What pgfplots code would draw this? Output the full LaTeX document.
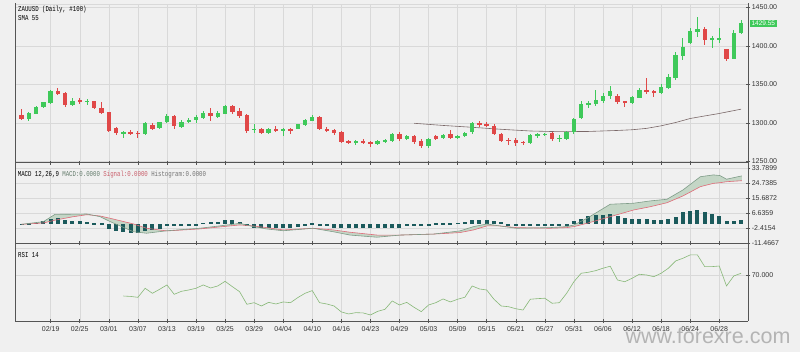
\documentclass[border=0pt]{standalone}
\usepackage{pgfplots}
\pgfplotsset{compat=1.18}
\usepackage{pgfplotstable}
\usepackage{fontspec}
\setmainfont{Liberation Sans}
\newfontfamily\monof[FakeStretch=0.76]{Liberation Mono}
\definecolor{bg}{HTML}{F0F0F0}
\definecolor{gridc}{HTML}{D9D9D9}
\definecolor{axc}{HTML}{555555}
\definecolor{cup}{HTML}{3FC95A}
\definecolor{cdn}{HTML}{E04848}
\definecolor{smac}{HTML}{7A6868}
\definecolor{macdc}{HTML}{7F9C88}
\definecolor{macdf}{HTML}{C4D6C6}
\definecolor{sigc}{HTML}{E06A78}
\definecolor{histc}{HTML}{1B5A5C}
\definecolor{rsic}{HTML}{88B878}
\definecolor{wmark}{HTML}{B4B4B4}

\pgfplotstableread{
i O H L C
1 1305.6 1314 1302.6 1313.4
2 1312.1 1322 1311.7 1320.7
3 1320.7 1327.5 1320 1326.8
4 1326.3 1342.8 1324 1341.5
7 1323 1332.4 1322 1328.5
9 1326.8 1330.7 1323.7 1328.9
14 1286.6 1290 1281 1288.3
17 1285.4 1301 1285 1299.6
19 1293.1 1301.5 1292 1300.9
20 1300.9 1311.3 1300 1309.1
22 1294.8 1303.9 1293.5 1301.7
23 1301.7 1306.9 1299.6 1303.9
24 1303.9 1310.4 1300 1307.4
25 1306.1 1315 1305 1312.6
27 1308.2 1315 1307 1313
28 1312.1 1323.3 1311 1322
32 1291.3 1298.7 1286.6 1292.6
34 1286.6 1293.5 1285.4 1292.6
36 1290.5 1294 1283 1291.8
38 1292.6 1299 1292 1298.3
39 1297.4 1305 1296 1303.9
40 1303 1310.8 1302 1308.2
46 1274.5 1278 1272 1276.3
49 1272.4 1278 1271 1276.7
50 1275.8 1279.5 1274 1278
51 1276.7 1287 1275 1285.4
53 1279.3 1285 1278 1283.5
56 1270.6 1280 1268 1278.9
58 1280.2 1286 1279 1284.8
60 1281 1285 1279.5 1283.5
61 1283.5 1288.5 1282 1287.4
62 1288 1301 1286 1300.4
70 1273.7 1285.4 1272.8 1284.4
71 1284 1287 1280 1285.4
72 1285 1287 1283 1285.7
74 1279.6 1285 1275 1280.6
75 1278.9 1289 1277.5 1288.3
76 1288 1306 1286 1305.2
77 1306.9 1328.5 1305.2 1324.2
78 1323.7 1328.9 1319.8 1326.3
79 1324.6 1342.8 1322 1329.8
80 1328.9 1339.3 1326.3 1335.4
81 1334.6 1348 1331 1341.1
84 1325.9 1334.6 1325 1333.3
85 1332.8 1345 1332 1342.4
88 1339.3 1350 1337 1346.7
89 1345.8 1363 1344 1360
90 1358.7 1391.6 1356 1388.1
91 1387.2 1409.8 1381.7 1398.1
92 1404.1 1422.8 1402.4 1418.9
93 1418.4 1437.8 1411.1 1422.2
95 1408.5 1412.8 1397.6 1409.8
96 1408 1423.5 1404.1 1410.6
98 1383 1420.6 1383 1417
99 1416.7 1433.5 1415.4 1429.55
}\upT

\pgfplotstableread{
i O H L C
0 1310.4 1318 1304 1305.2
5 1341.5 1345.4 1336 1337.6
6 1338.5 1340 1320.4 1323.3
8 1329.8 1332 1325 1326.8
10 1328.5 1329 1317.8 1319.8
11 1319.8 1326.8 1311 1312.6
12 1313.9 1314.5 1288.7 1290
13 1293.9 1295.2 1284 1286.6
15 1288.7 1291 1284 1286.6
16 1287 1290 1281 1286
18 1297 1299.6 1291 1292.2
21 1309.1 1310 1292.6 1296.1
26 1313.4 1319.8 1303 1308.7
29 1322 1323.3 1312 1313.9
30 1316 1319 1307 1308.7
31 1310.4 1311 1287.4 1289.6
33 1292.6 1294 1286 1287
35 1292.6 1295.5 1288.3 1290
37 1291.8 1293 1285.4 1291
41 1308.2 1309 1290.5 1291.8
42 1292.6 1294.8 1288 1290
43 1290.9 1292 1285 1286.6
44 1287.9 1289 1274.5 1275.8
45 1276.7 1278 1272.7 1274
47 1276.7 1279 1273 1275
48 1275.4 1277 1268.5 1272.8
52 1286.1 1288 1277 1279.3
54 1283.5 1285 1272.8 1275.8
55 1277 1279 1267.6 1270.2
57 1283.5 1285 1278 1279.6
59 1285.4 1291 1279 1280.6
63 1300.4 1303 1295 1297
64 1298.3 1301 1294.4 1297.4
65 1296.1 1298.3 1285 1286.1
66 1286.1 1287.4 1275 1277
67 1278 1281 1272 1276.7
68 1278 1280 1270 1274.5
69 1275.8 1277 1272 1273.7
73 1286.6 1288 1277 1279.3
82 1335.4 1337.6 1324.2 1327.2
83 1328 1329 1320.4 1326.3
86 1342.4 1358.7 1337.2 1340.6
87 1341.5 1343 1333.7 1339.3
94 1422.2 1424 1401.1 1408
97 1395.5 1396.5 1380.4 1383
}\dnT

\pgfplotstableread{
i v
54 1299.6
58 1296.8
62 1294.4
66 1291.8
70 1289.6
74 1288.7
78 1289
82 1290.3
84 1291.2
86 1293
88 1296.3
90 1300.6
92 1305.8
94 1309.1
96 1312.3
99 1317.9
}\smaT

\pgfplotstableread{
i m s
0 0 0
3 1.6 0.8
4.6 6 2.5
7 6.1 4.5
9 6.2 5.8
10.8 4.6 5.0
12.2 1.6 3.6
15.4 -4.5 0.2
17.2 -5.4 -2.4
20 -3.9 -4
24.5 -2.4 -2.8
29.1 0 -0.8
30 0.6 -0.4
31.9 -1.4 -1
33.7 -2.8 -2
36 -3.9 -3.4
40.1 -2.4 -2.4
42.9 -4.5 -3.4
45.2 -6.5 -4.8
48.9 -7.8 -6.5
52.1 -6.5 -6.5
56.7 -5.9 -5.9
60.3 -4 -5
62.2 -1.4 -3.4
64 0.2 -1
65.8 -1 -1
68.1 -2.4 -2
72.7 -2 -2.4
75 -1.4 -2
76 -0.4 -1.4
77.8 3.6 0.6
81 12.1 4.6
84.2 12.7 8.6
86.5 14.1 10.6
88.8 15.1 13
91 20.7 17.1
93.4 28.7 22.7
95.2 29.8 24.7
96.1 29.4 25.1
97 27.2 25.7
99.1 29.2 26.3
}\macdT

% band between MACD and signal: MACD forward, signal backward
\pgfplotstableread{
i v
0 0
3 1.6
4.6 6
7 6.1
9 6.2
10.8 4.6
12.2 1.6
15.4 -4.5
17.2 -5.4
20 -3.9
24.5 -2.4
29.1 0
30 0.6
31.9 -1.4
33.7 -2.8
36 -3.9
40.1 -2.4
42.9 -4.5
45.2 -6.5
48.9 -7.8
52.1 -6.5
56.7 -5.9
60.3 -4
62.2 -1.4
64 0.2
65.8 -1
68.1 -2.4
72.7 -2
75 -1.4
76 -0.4
77.8 3.6
81 12.1
84.2 12.7
86.5 14.1
88.8 15.1
91 20.7
93.4 28.7
95.2 29.8
96.1 29.4
97 27.2
99.1 29.2
99.1 26.3
97 25.7
96.1 25.1
95.2 24.7
93.4 22.7
91 17.1
88.8 13
86.5 10.6
84.2 8.6
81 4.6
77.8 0.6
76 -1.4
75 -2
72.7 -2.4
68.1 -2
65.8 -1
64 -1
62.2 -3.4
60.3 -5
56.7 -5.9
52.1 -6.5
48.9 -6.5
45.2 -4.8
42.9 -3.4
40.1 -2.4
36 -3.4
33.7 -2
31.9 -1
30 -0.4
29.1 -0.8
24.5 -2.8
20 -4
17.2 -2.4
15.4 0.2
12.2 3.6
10.8 5.0
9 5.8
7 4.5
4.6 2.5
3 0.8
0 0
}\bandT

\pgfplotstableread{
i h
0 0.3
1 0.5
2 1.0
3 2.0
4 3.4
5 3.6
6 2.6
7 2.0
8 1.8
9 1.6
10 0.5
11 0.5
12 -3.0
13 -4.0
14 -4.8
15 -5.4
16 -5.4
17 -3.9
18 -3.4
19 -3.0
20 -0.5
21 -0.5
22 -0.5
23 -0.5
24 -0.5
25 1.0
26 1.4
27 1.6
28 2.4
29 2.4
30 1.4
31 -0.5
32 -2.0
33 -2.0
34 -2.0
35 -2.0
36 -2.0
37 -2.0
38 -1.6
39 -0.5
40 0.5
41 -0.5
42 -1.2
43 -2.0
44 -2.4
45 -2.4
46 -2.4
47 -2.4
48 -2.4
49 -2.4
50 -2.4
51 -2.4
52 -2.2
53 -0.5
54 -0.5
55 -0.5
56 -0.5
57 0.5
58 0.5
59 0.6
60 1.0
61 1.2
62 2.4
63 2.8
64 2.8
65 2.2
66 1.2
67 -0.5
68 -0.5
69 -0.5
70 -0.5
71 -0.5
72 -0.5
73 -0.5
74 -0.5
75 -0.5
76 1.8
77 3.4
78 4.8
79 5.4
80 5.8
81 6.0
82 5.0
83 4.0
84 3.4
85 3.4
86 3.4
87 2.4
88 2.4
89 3.4
90 4.4
91 7.4
92 8.0
93 8.9
94 7.4
95 6.4
96 4.8
97 2.0
98 2.0
99 2.4
}\histT

\pgfplotstableread{
i v
14 49.4
15 49
16 48.1
17 57.1
18 52.1
19 56.1
20 60.4
21 51.1
22 54.1
23 55.4
24 57.1
25 60.4
26 57.4
27 59.4
28 64
29 58.7
30 53.7
31 41.2
32 42.8
33 39.5
34 43.1
35 41.5
36 43.5
37 42.8
38 47.8
39 52.1
40 54.8
41 42.8
42 41.5
43 39.5
44 33.6
45 31.6
46 32.9
47 32.6
48 30.6
49 34.2
50 36.2
51 44.5
52 40.5
53 43.1
54 38.2
55 33.9
56 40.5
57 42.8
58 46.5
59 43.5
60 46.2
61 48.2
62 59.4
63 56.4
64 55.4
65 46.2
66 39.5
67 38.8
68 36.8
69 35.5
70 46.2
71 46.8
72 47.2
73 42.2
74 42.8
75 52.1
76 63.6
77 72
78 73
79 74.6
80 77
81 79
82 65.3
83 63.6
84 67
85 71
86 70.3
87 68.6
88 72
89 77
90 84.2
91 86.9
92 90.2
93 90.2
94 78.6
95 78.6
96 79.2
97 59.4
98 69.3
99 72
}\rsiT

\pgfplotsset{
  panel/.style={
    scale only axis, width=733.3pt,
    xmin=-0.908, xmax=100,
    axis x line*=bottom, axis y line*=right,
    axis line style={axc, line width=0.6pt},
    every tick/.style={axc, line width=0.5pt},
    tick align=center, major tick length=4pt,
    xtick={4,8,...,96}, xticklabels={},
    grid=major, grid style={gridc, line width=0.45pt},
    tick label style={font=\fontsize{7}{8}\selectfont, text=black!80},
    yticklabel style={xshift=-2pt},
    /pgf/number format/assume math mode=true,
    clip=false,
  },
  ebar/.style n args={2}{draw=none, mark=none, forget plot,
    error bars/.cd, y dir=both, y explicit, error mark=none,
    error bar style={line width=#1, draw=#2, solid}},
}

\begin{document}
\begin{tikzpicture}
\fill[bg] (0,0) rectangle (800pt,352pt);
\path[use as bounding box] (0,0) rectangle (800pt,352pt);

% ---------- price panel ----------
\begin{axis}[panel, at={(15pt,189.3pt)}, anchor=south west, height=158.5pt,
  ymin=1248.5, ymax=1454,
  ytick={1250,1300,1350,1400,1450},
  yticklabels={1250.00,1300.00,1350.00,1400.00,1450.00}]
\draw[gridc, line width=0.45pt] (rel axis cs:0,1) -- (rel axis cs:1,1);
\addplot[smac, line width=0.6pt, forget plot] table[x=i,y=v]{\smaT};
\addplot[ebar={0.9pt}{cup}]
  table[x=i, y expr={(\thisrow{H}+\thisrow{L})/2}, y error expr={(\thisrow{H}-\thisrow{L})/2}]{\upT};
\addplot[ebar={0.9pt}{cdn}]
  table[x=i, y expr={(\thisrow{H}+\thisrow{L})/2}, y error expr={(\thisrow{H}-\thisrow{L})/2}]{\dnT};
\addplot[ebar={4.4pt}{cup}]
  table[x=i, y expr={(\thisrow{O}+\thisrow{C})/2}, y error expr={max(abs(\thisrow{C}-\thisrow{O})/2,0.7)}]{\upT};
\addplot[ebar={4.4pt}{cdn}]
  table[x=i, y expr={(\thisrow{O}+\thisrow{C})/2}, y error expr={max(abs(\thisrow{C}-\thisrow{O})/2,0.7)}]{\dnT};
\node[fill=cup, text=white, anchor=west, inner xsep=1.6pt, inner ysep=1.2pt,
  font=\fontsize{6.5}{7}\selectfont, xshift=1.5pt] at (axis cs:100,1429.55) {1429.55};
\end{axis}

% ---------- MACD panel ----------
\begin{axis}[panel, at={(15pt,108.7pt)}, anchor=south west, height=75pt,
  ymin=-11.4667, ymax=33.7899,
  ytick={-11.4667,-2.4154,6.6359,15.6872,24.7385,33.7899},
  yticklabels={-11.4667,-2.4154,6.6359,15.6872,24.7385,33.7899}]
\draw[gridc, line width=0.45pt] (rel axis cs:0,1) -- (rel axis cs:1,1);
\addplot[fill=macdf, draw=none, forget plot] table[x=i,y=v]{\bandT} -- cycle;
\addplot[ebar={4pt}{histc}]
  table[x=i, y expr={\thisrow{h}/2}, y error expr={abs(\thisrow{h})/2}]{\histT};
\addplot[sigc, line width=0.6pt, forget plot] table[x=i,y=s]{\macdT};
\addplot[macdc, line width=0.6pt, forget plot] table[x=i,y=m]{\macdT};
\end{axis}

% ---------- RSI panel ----------
\begin{axis}[panel, at={(15pt,31pt)}, anchor=south west, height=72.5pt,
  ymin=24.6, ymax=96.6,
  ytick={70}, yticklabels={70.000},
  xticklabels={02/19,02/25,03/01,03/07,03/13,03/19,03/25,03/29,04/04,04/10,04/16,04/23,04/29,05/03,05/09,05/15,05/21,05/27,05/31,06/06,06/12,06/18,06/24,06/28}]
\draw[gridc, line width=0.45pt] (rel axis cs:0,1) -- (rel axis cs:1,1);
\addplot[rsic, line width=0.6pt, forget plot] table[x=i,y=v]{\rsiT};
\end{axis}

% continuous frame lines
\draw[axc, line width=0.6pt] (15pt,31pt) -- (15pt,349pt);
\draw[axc, line width=0.6pt] (748.3pt,31pt) -- (748.3pt,349pt);

% texts
\node[anchor=west, inner sep=0pt, font=\monof\fontsize{7.5}{8}\selectfont] at (18pt,342.7pt) {ZAUUSD (Daily, \#100)};
\node[anchor=west, inner sep=0pt, font=\monof\fontsize{7.5}{8}\selectfont] at (18pt,334.3pt) {SMA 55};
\node[anchor=west, inner sep=0pt, font=\monof\fontsize{7.5}{8}\selectfont] at (17.7pt,177.3pt)
  {MACD 12,26,9 \textcolor{macdc!80!black}{MACD:0.0000} \textcolor{sigc!90!black}{Signal:0.0000} \textcolor{black!55}{Histogram:0.0000}};
\node[anchor=west, inner sep=0pt, font=\monof\fontsize{7.5}{8}\selectfont] at (18pt,97pt) {RSI 14};
\node[wmark, anchor=base, inner sep=0pt, font=\fontsize{21.5}{24}\selectfont] at (708pt,8pt) {www.forexre.com};
\end{tikzpicture}
\end{document}
